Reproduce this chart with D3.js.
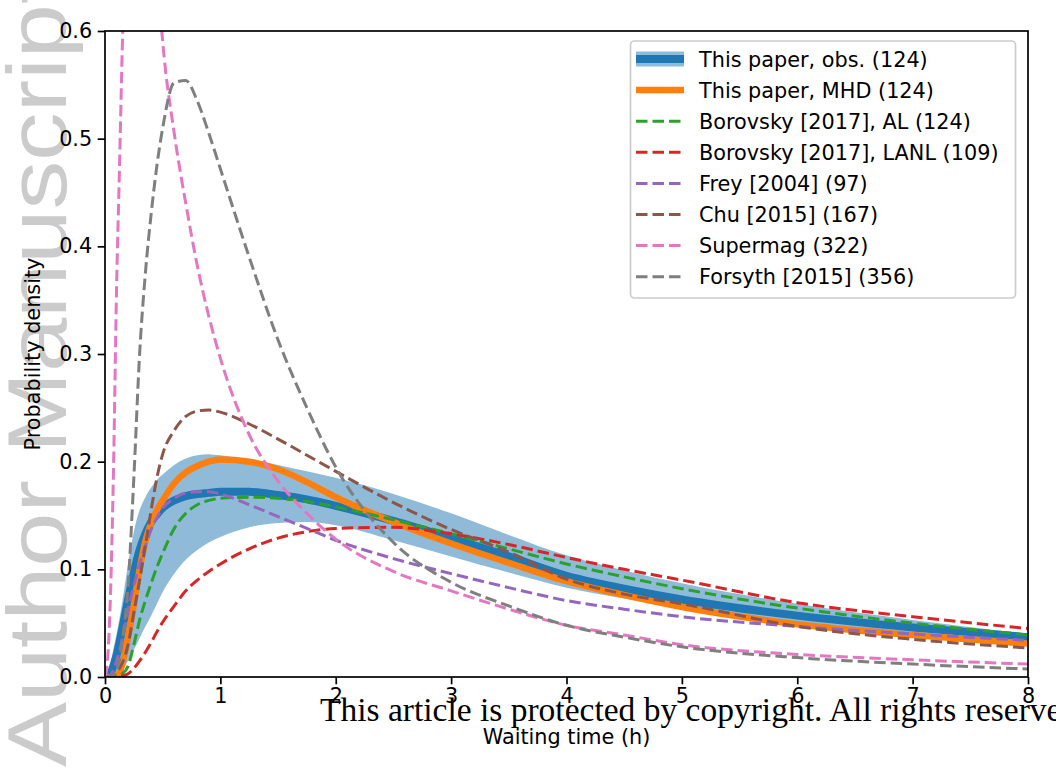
<!DOCTYPE html>
<html>
<head>
<meta charset="utf-8">
<script src="https://cdn.jsdelivr.net/npm/d3@7"></script>
<style>
  body { margin: 0; background: #fff; }
  text { font-family: "DejaVu Sans", sans-serif; }
</style>
</head>
<body>
<div id="chart"></div>
<script>
// waiting time grid (h), shared by every curve
const xGrid = [0, 0.025, 0.05, 0.075, 0.1, 0.125, 0.15, 0.2, 0.25, 0.3, 0.35, 0.4, 0.45, 0.5,
  0.6, 0.7, 0.8, 0.9, 1.0, 1.25, 1.5, 1.75, 2, 2.5, 3, 3.5, 4, 4.5, 5, 6, 7, 8];

const obsMean = [0, 0.001, 0.004, 0.011, 0.02, 0.032, 0.045, 0.072, 0.097, 0.118, 0.133, 0.144, 0.151, 0.157,
  0.164, 0.168, 0.17, 0.171, 0.172, 0.172, 0.169, 0.165, 0.159, 0.145, 0.129, 0.112, 0.094, 0.082, 0.072, 0.057, 0.046, 0.037];
const obsUpper = [0, 0.006, 0.015, 0.027, 0.04, 0.054, 0.07, 0.105, 0.135, 0.155, 0.167, 0.176, 0.183, 0.188,
  0.197, 0.203, 0.206, 0.207, 0.206, 0.202, 0.197, 0.191, 0.185, 0.17, 0.152, 0.132, 0.113, 0.099, 0.087, 0.068, 0.053, 0.04];
const obsLower = [0, 0, 0, 0.001, 0.002, 0.004, 0.007, 0.015, 0.025, 0.036, 0.047, 0.057, 0.068, 0.079,
  0.096, 0.109, 0.118, 0.125, 0.13, 0.139, 0.143, 0.144, 0.141, 0.127, 0.112, 0.097, 0.083, 0.073, 0.064, 0.05, 0.041, 0.034];
const mhd = [0, 0, 0, 0.001, 0.002, 0.004, 0.012, 0.037, 0.067, 0.1, 0.126, 0.143, 0.155, 0.164,
  0.18, 0.19, 0.196, 0.2, 0.202, 0.2, 0.193, 0.181, 0.167, 0.144, 0.124, 0.106, 0.089, 0.076, 0.065, 0.049, 0.039, 0.031];
const borovskyAL = [0, 0, 0, 0, 0.001, 0.002, 0.003, 0.01, 0.03, 0.053, 0.071, 0.087, 0.102, 0.115,
  0.138, 0.152, 0.16, 0.164, 0.166, 0.167, 0.166, 0.163, 0.158, 0.146, 0.133, 0.119, 0.105, 0.093, 0.082, 0.064, 0.05, 0.039];
const borovskyLANL = [0, 0, 0, 0, 0, 0, 0.001, 0.003, 0.008, 0.015, 0.023, 0.032, 0.042, 0.051,
  0.066, 0.08, 0.09, 0.098, 0.105, 0.119, 0.129, 0.135, 0.138, 0.139, 0.133, 0.123, 0.111, 0.1, 0.09, 0.069, 0.056, 0.045];
const frey = [0, 0.001, 0.002, 0.007, 0.015, 0.024, 0.035, 0.062, 0.085, 0.105, 0.122, 0.137, 0.148, 0.157,
  0.166, 0.171, 0.172, 0.172, 0.17, 0.16, 0.149, 0.138, 0.127, 0.11, 0.096, 0.083, 0.071, 0.063, 0.056, 0.047, 0.04, 0.034];
const chu = [0, 0, 0.001, 0.002, 0.004, 0.008, 0.013, 0.03, 0.06, 0.09, 0.122, 0.155, 0.185, 0.207,
  0.229, 0.242, 0.247, 0.248, 0.246, 0.235, 0.221, 0.206, 0.191, 0.162, 0.137, 0.116, 0.091, 0.077, 0.068, 0.047, 0.035, 0.027];
const supermag = [0, 0.02, 0.085, 0.2, 0.36, 0.47, 0.585, 0.74, 0.8, 0.82, 0.8, 0.74, 0.66, 0.59,
  0.505, 0.44, 0.382, 0.335, 0.296, 0.225, 0.182, 0.152, 0.128, 0.098, 0.08, 0.063, 0.048, 0.039, 0.03, 0.021, 0.016, 0.012];
const forsyth = [0, 0, 0.001, 0.002, 0.006, 0.016, 0.033, 0.085, 0.185, 0.3, 0.375, 0.43, 0.475, 0.51,
  0.552, 0.554, 0.535, 0.505, 0.472, 0.39, 0.313, 0.25, 0.195, 0.125, 0.088, 0.066, 0.048, 0.037, 0.028, 0.018, 0.012, 0.0074];

const legendLabels = ["This paper, obs. (124)", "This paper, MHD (124)", "Borovsky [2017], AL (124)",
  "Borovsky [2017], LANL (109)", "Frey [2004] (97)", "Chu [2015] (167)", "Supermag (322)", "Forsyth [2015] (356)"];
const xTicks = [0, 1, 2, 3, 4, 5, 6, 7, 8];
const yTicks = [0, 0.1, 0.2, 0.3, 0.4, 0.5, 0.6];

const dashed = [
  {values: borovskyAL, color: "#2ca02c"},
  {values: borovskyLANL, color: "#d62728"},
  {values: frey, color: "#9467bd"},
  {values: chu, color: "#8c564b"},
  {values: supermag, color: "#e377c2"},
  {values: forsyth, color: "#7f7f7f"}
];

let svg = d3.select("#chart").append("svg")
  .attr("width", 1056)
  .attr("height", 768);

// grey watermark down the left edge
svg.append("text")
  .attr("transform", "translate(66,767) rotate(-90)")
  .attr("font-family", "Liberation Sans")
  .style("font-family", "'Liberation Sans', Arial, sans-serif")
  .attr("font-size", 84)
  .attr("fill", "#cbcbcb")
  .attr("textLength", 790)
  .attr("lengthAdjust", "spacingAndGlyphs")
  .text("Author Manuscript");

let x = d3.scaleLinear().domain([0, 8]).range([105, 1028]);
let y = d3.scaleLinear().domain([0, 0.6]).range([677, 31]);

svg.append("clipPath").attr("id", "plotclip")
  .append("rect")
  .attr("x", x(0)).attr("y", y(0.6))
  .attr("width", x(8) - x(0)).attr("height", y(0) - y(0.6));

let plot = svg.append("g").attr("clip-path", "url(#plotclip)");

let line = vals => d3.line()
  .x((d, i) => x(xGrid[i]))
  .y(d => y(d))
  .curve(d3.curveMonotoneX)(vals);

let band = d3.area()
  .x((d, i) => x(xGrid[i]))
  .y0((d, i) => y(obsLower[i]))
  .y1(d => y(d))
  .curve(d3.curveMonotoneX);

plot.append("path")
  .attr("d", band(obsUpper))
  .attr("fill", "#1f77b4")
  .attr("fill-opacity", 0.5);

plot.append("path")
  .attr("d", line(obsMean))
  .attr("fill", "none")
  .attr("stroke", "#1f77b4")
  .attr("stroke-width", 8);

plot.append("path")
  .attr("d", line(mhd))
  .attr("fill", "none")
  .attr("stroke", "#ff7f0e")
  .attr("stroke-width", 6.5);

plot.selectAll("path.dash")
  .data(dashed)
  .join("path")
  .attr("class", "dash")
  .attr("d", d => line(d.values))
  .attr("fill", "none")
  .attr("stroke", d => d.color)
  .attr("stroke-width", 3)
  .attr("stroke-dasharray", "11.5,5");

// axes
let xAxis = svg.append("g")
  .attr("transform", "translate(0," + y(0) + ")")
  .call(d3.axisBottom(x).tickValues(xTicks).tickFormat(d3.format("d"))
    .tickSize(7.3).tickSizeOuter(0).tickPadding(4));

let yAxis = svg.append("g")
  .attr("transform", "translate(" + x(0) + ",0)")
  .call(d3.axisLeft(y).tickValues(yTicks).tickFormat(d3.format(".1f"))
    .tickSize(7.3).tickSizeOuter(0).tickPadding(5.5));

[xAxis, yAxis].forEach(a => {
  a.select(".domain").remove();
  a.selectAll("line").attr("stroke", "#000").attr("stroke-width", 1.7);
  a.selectAll("text")
    .attr("fill", "#000")
    .style("font-family", "'DejaVu Sans', sans-serif")
    .attr("font-size", 20.8);
});

svg.append("rect")
  .attr("x", x(0)).attr("y", y(0.6))
  .attr("width", x(8) - x(0)).attr("height", y(0) - y(0.6))
  .attr("fill", "none")
  .attr("stroke", "#000")
  .attr("stroke-width", 1.7);

svg.append("text")
  .attr("x", (x(0) + x(8)) / 2)
  .attr("y", 744)
  .attr("text-anchor", "middle")
  .attr("font-size", 20.8)
  .text("Waiting time (h)");

svg.append("text")
  .attr("transform", "translate(40," + (y(0) + y(0.6)) / 2 + ") rotate(-90)")
  .attr("text-anchor", "middle")
  .attr("font-size", 20.8)
  .text("Probability density");

// legend
let legend = svg.append("g");
legend.append("rect")
  .attr("x", 630.5).attr("y", 41)
  .attr("width", 385).attr("height", 257)
  .attr("rx", 4)
  .attr("fill", "#fff").attr("fill-opacity", 0.8)
  .attr("stroke", "#cccccc").attr("stroke-width", 1.7);

let rows = legend.selectAll("g.row")
  .data(legendLabels)
  .join("g")
  .attr("class", "row")
  .attr("transform", (d, i) => "translate(0," + (59 + i * 31.1) + ")");

rows.append("text")
  .attr("x", 699)
  .attr("y", 7.5)
  .attr("font-size", 20.8)
  .text(d => d);

rows.filter((d, i) => i === 0).append("rect")
  .attr("x", 636).attr("y", -7.5)
  .attr("width", 48).attr("height", 15)
  .attr("fill", "#1f77b4").attr("fill-opacity", 0.5);

let handleColor = ["#1f77b4", "#ff7f0e"].concat(dashed.map(d => d.color));
rows.append("line")
  .attr("x1", 636).attr("x2", 684)
  .attr("stroke", (d, i) => handleColor[i])
  .attr("stroke-width", (d, i) => i === 0 ? 8 : i === 1 ? 6.5 : 3)
  .attr("stroke-dasharray", (d, i) => i < 2 ? null : "11.5,5");

// copyright stamp laid over the x axis
svg.append("text")
  .attr("x", 320)
  .attr("y", 721)
  .style("font-family", "'Liberation Serif', 'Times New Roman', serif")
  .attr("font-size", 33.5)
  .attr("fill", "#000")
  .text("This article is protected by copyright. All rights reserved.");
</script>
</body>
</html>
